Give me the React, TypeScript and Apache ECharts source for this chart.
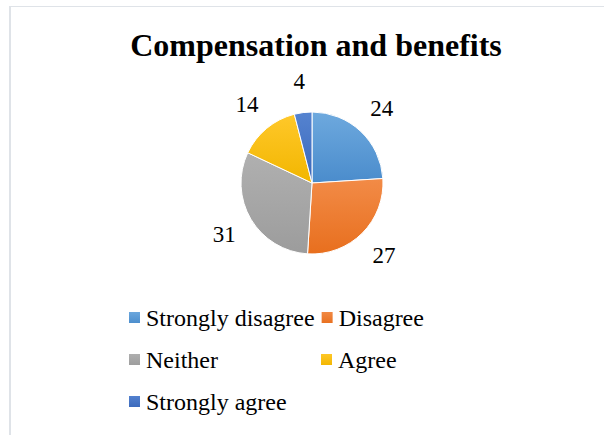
import React, { useEffect, useRef } from "react";
import * as echarts from "echarts";

const categories = ["Strongly disagree", "Disagree", "Neither", "Agree", "Strongly agree"];
const values = [24, 27, 31, 14, 4];
const colorsTop = ["#6ea9de", "#f28b47", "#b0b0b0", "#ffc82a", "#5583d0"];
const colorsBottom = ["#4a8ccc", "#e86f1e", "#9c9c9c", "#f2b600", "#3a68bb"];
const titleText = "Compensation and benefits";

export default function App() {
  const ref = useRef<HTMLDivElement>(null);
  useEffect(() => {
    if (!ref.current) return;
    const chart = echarts.init(ref.current, null, { renderer: "svg" });
    const font = "'Liberation Serif', 'Times New Roman', serif";
    chart.setOption({
      animation: false,
      title: {
        text: titleText,
        left: 311,
        textAlign: "center",
        top: 24,
        textStyle: { fontFamily: font, fontSize: 32, fontWeight: "bold", color: "#000" },
      },
      legend: {
        left: 127,
        top: 299,
        width: 400,
        padding: 0,
        orient: "horizontal",
        itemWidth: 13,
        itemHeight: 13,
        itemGap: 5,
        icon: "rect",
        data: categories,
        textStyle: {
          fontFamily: font,
          fontSize: 24,
          color: "#000",
          width: 168,
          height: 37,
          lineHeight: 37,
          overflow: "none",
          padding: [0, 0, 0, 0],
        },
      },
      series: [
        {
          type: "pie",
          center: [312, 183],
          radius: 71,
          startAngle: 90,
          clockwise: true,
          label: { show: false },
          labelLine: { show: false },
          itemStyle: { borderColor: "#fff", borderWidth: 1 },
          emphasis: { disabled: true },
          data: categories.map((name, i) => ({
            name,
            value: values[i],
            itemStyle: {
              color: new echarts.graphic.LinearGradient(0, 0, 0, 1, [
                { offset: 0, color: colorsTop[i] },
                { offset: 1, color: colorsBottom[i] },
              ]),
            },
          })),
        },
        {
          type: "pie",
          center: [312, 183],
          radius: [71, 127],
          startAngle: 90,
          clockwise: true,
          silent: true,
          legendHoverLink: false,
          label: {
            show: true,
            position: "inside",
            formatter: "{c}",
            fontFamily: font,
            fontSize: 23,
            color: "#000",
          },
          labelLine: { show: false },
          itemStyle: { color: "rgba(0,0,0,0)", borderWidth: 0 },
          emphasis: { disabled: true },
          data: categories.map((name, i) => ({ name: name + " ", value: values[i] })),
        },
      ],
    });
    return () => chart.dispose();
  }, []);
  return (
    <div style={{ position: "absolute", left: 0, top: 0, width: 604, height: 435, background: "#fff" }}>
      <div
        style={{
          position: "absolute",
          left: 9,
          top: 6,
          width: 595,
          height: 429,
          borderTop: "1px solid #dfe3e8",
          borderLeft: "2px solid #dfe3e8",
          boxSizing: "border-box",
        }}
      />
      <div ref={ref} style={{ position: "absolute", left: 0, top: 0, width: 604, height: 435 }} />
    </div>
  );
}
